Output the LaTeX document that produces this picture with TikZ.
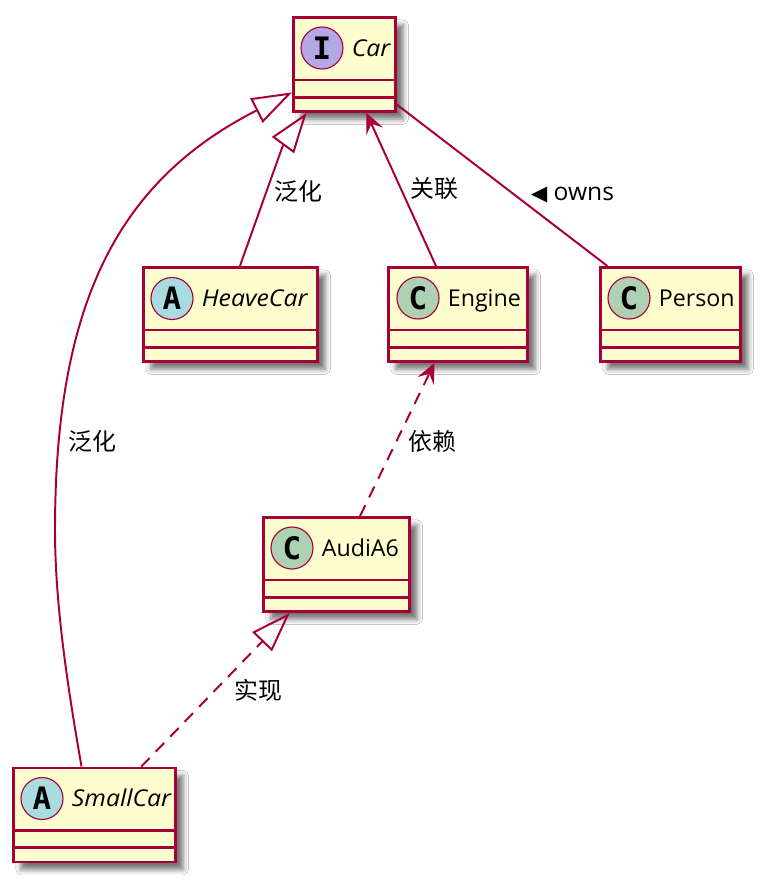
\documentclass[tikz,border=0pt]{standalone}
\usepackage{fontspec}
\setmainfont{Open Sans}
\newfontfamily\itname{Open Sans}[FakeStretch=1.07]
\newfontfamily\cjk{Noto Sans CJK SC}
\newfontfamily\symb{DejaVu Sans}
\newfontfamily\badgefont{DejaVu Sans Mono}
\usetikzlibrary{arrows.meta,positioning,shadows.blur}
\definecolor{umlred}{HTML}{A80036}
\definecolor{umlfill}{HTML}{FEFECE}
\definecolor{ifacepurple}{HTML}{B4A7E5}
\definecolor{abstractblue}{HTML}{A9DCDF}
\definecolor{classgreen}{HTML}{ADD1B2}

\begin{document}
\begin{tikzpicture}[x=0.025cm, y=-0.025cm,
    cls/.style={rectangle, draw=umlred, fill=umlfill, line width=2pt, minimum height=2.35cm,
      blur shadow={shadow xshift=0.19cm, shadow yshift=-0.19cm, shadow blur radius=0.13cm, shadow opacity=55},
      path picture={\draw[umlred, line width=2pt]
        ([yshift=0.79cm]path picture bounding box.south west) -- ([yshift=0.79cm]path picture bounding box.south east)
        ([yshift=0.36cm]path picture bounding box.south west) -- ([yshift=0.36cm]path picture bounding box.south east);}},
    badge/.style={circle, draw=umlred, line width=0.8pt, minimum size=1.05cm, inner sep=0, font=\badgefont\bfseries\fontsize{22}{22}\selectfont},
    clsname/.style={right=0.2cm of #1, inner sep=0, text height=11.8pt, text depth=0pt, font=\fontsize{16.5}{20}\selectfont},
    lbl/.style={inner sep=0, font=\cjk\fontsize{17}{20}\selectfont},
    gen/.style={-{Triangle[open, length=1cm, width=0.68cm]}, line width=1.4pt, umlred},
    assoc/.style={->, >={Stealth[length=0.5cm, width=0.45cm, inset=0.2cm]}, line width=1.4pt, umlred},
    plainline/.style={line width=1.4pt, umlred},
    dashline/.style={dash pattern=on 0.3cm off 0.22cm}
  ]
    \path[use as bounding box, fill=white] (0,0) rectangle (761,882);

    % classes
    \node[cls, minimum width=2.555cm] (car) at (344.5,64.5) {};
    \node[cls, minimum width=4.355cm] (heave) at (230.5,314.5) {};
    \node[cls, minimum width=3.48cm] (engine) at (458,314.5) {};
    \node[cls, minimum width=3.505cm] (person) at (670.5,314.5) {};
    \node[cls, minimum width=3.655cm] (audi) at (336.5,564.5) {};
    \node[cls, minimum width=4.055cm] (small) at (94.5,815) {};

    \node[badge, fill=ifacepurple] (carI) at (322,48) {I};
    \node[badge, fill=abstractblue] (heaveA) at (172,298.5) {A};
    \node[badge, fill=classgreen] (engineC) at (418,298) {C};
    \node[badge, fill=classgreen] (personC) at (629,298) {C};
    \node[badge, fill=classgreen] (audiC) at (292,548) {C};
    \node[badge, fill=abstractblue] (smallA) at (42,798.5) {A};

    \node[clsname=carI] {\itname\itshape Car};
    \node[clsname=heaveA] {\itname\itshape HeaveCar};
    \node[clsname=engineC] {Engine};
    \node[clsname=personC] {Person};
    \node[clsname=audiC] {AudiA6};
    \node[clsname=smallA] {\itname\itshape SmallCar};

    % relations
    \draw[gen] (small.105) .. controls (70,700) and (55,610) .. (55,530) .. controls (55,300) and (120,180) .. (car.208);
    \draw[gen] (heave.79) .. controls (252,232) and (283,145) .. (car.232);
    \draw[assoc] (engine) -- (car);
    \draw[plainline] (car) -- (person);
    \draw[assoc, dashline] (audi) -- (engine);
    \draw[gen, dashline] (small) -- (audi);

    \node[lbl] (genleft) at (92,441) {泛化};
    \node[lbl] (genmid) at (298,191) {泛化};
    \node[lbl] (assoclbl) at (434,189) {关联};
    \node[inner sep=0, anchor=base, font=\fontsize{17.5}{20}\selectfont] (ownslbl) at (572.5,200) {{\symb\fontsize{15}{15}\selectfont ◀} owns};
    \node[lbl] (deplbl) at (432.5,441) {依赖};
    \node[lbl] (reallbl) at (258,690) {实现};
  \end{tikzpicture}
\end{document}
